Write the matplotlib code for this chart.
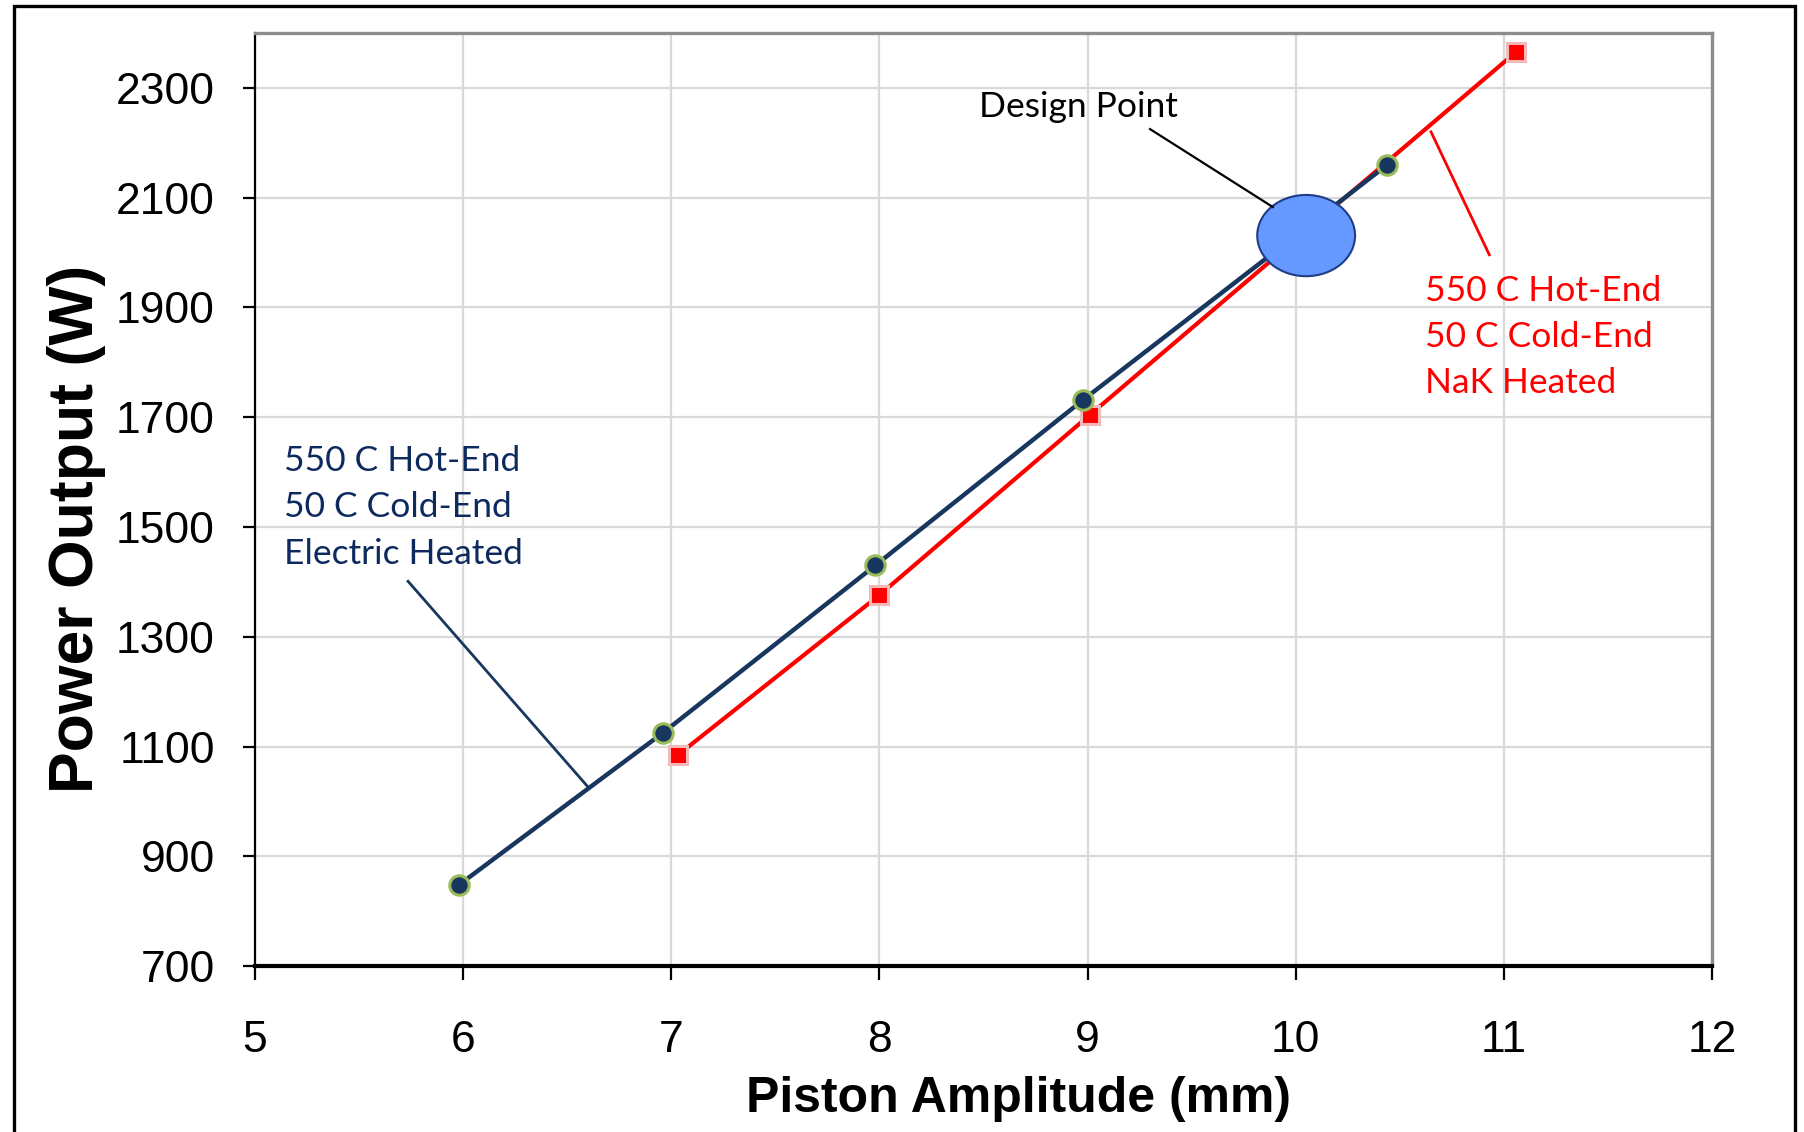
import matplotlib
matplotlib.use("Agg")
import matplotlib.pyplot as plt
from matplotlib.patches import Ellipse, Rectangle

# electric heated run (navy circles)
electric_amp = [5.98, 6.96, 7.98, 8.98, 10.44]
electric_power = [848, 1125, 1430, 1732, 2160]

# NaK heated run (red squares)
nak_amp = [7.03, 8.00, 9.01, 11.06]
nak_power = [1084, 1376, 1704, 2366]

x_ticks = [5, 6, 7, 8, 9, 10, 11, 12]
y_ticks = [700, 900, 1100, 1300, 1500, 1700, 1900, 2100, 2300]

design_point = (10.05, 2031)

navy = "#17375E"
navy_text = "#0D2A5E"
red = "#FF0000"

plt.rcParams["font.family"] = ["Liberation Sans", "DejaVu Sans"]

fig = plt.figure(figsize=(18.04, 11.32), dpi=100)
ax = fig.add_axes([0.1414, 0.1466, 0.8076, 0.8242])

ax.grid(True, color="#D9D9D9", linewidth=1.6, zorder=0)
ax.set_axisbelow(True)

ax.plot(electric_amp, electric_power, color=navy, linewidth=3.2, marker="o",
        markersize=14, markerfacecolor=navy, markeredgecolor="#9BBB59",
        markeredgewidth=2.2, zorder=4)
ax.plot(nak_amp, nak_power, color=red, linewidth=3.0, marker="s",
        markersize=13, markerfacecolor=red, markeredgecolor="#F4B8B8",
        markeredgewidth=2.2, zorder=3)

ax.add_patch(Ellipse(design_point, 0.47, 148, facecolor="#6699FF",
                     edgecolor="#1F3C88", linewidth=1.5, zorder=5))

ann_font = dict(family=["Lato", "DejaVu Sans"], fontsize=25.5)

ax.text(8.48, 2265, "Design Point", color="black", ha="left", va="center", **ann_font)
ax.plot([9.30, 9.89], [2225, 2083], color="black", linewidth=1.6, zorder=6)

ax.text(5.14, 1536, "550 C Hot-End\n50 C Cold-End\nElectric Heated", color=navy_text,
        ha="left", va="center", linespacing=1.55, **ann_font)
ax.plot([5.735, 6.605], [1401, 1024], color=navy, linewidth=2.0, zorder=6)

ax.text(10.62, 1846, "550 C Hot-End\n50 C Cold-End\nNaK Heated", color=red,
        ha="left", va="center", linespacing=1.55, **ann_font)
ax.plot([10.65, 10.93], [2220, 1996], color=red, linewidth=2.0, zorder=6)

ax.set_xlim(5, 12)
ax.set_ylim(700, 2400)
ax.set_xticks(x_ticks)
ax.set_yticks(y_ticks)
ax.tick_params(axis="both", labelsize=32, direction="out", width=1.6, colors="black")
ax.tick_params(axis="y", length=9, pad=20)
ax.tick_params(axis="x", length=10, pad=29)

for side in ["top", "right"]:
    ax.spines[side].set_color("#8C8C8C")
    ax.spines[side].set_linewidth(2.4)
ax.spines["left"].set_color("black")
ax.spines["left"].set_linewidth(1.6)
ax.spines["bottom"].set_color("black")
ax.spines["bottom"].set_linewidth(3.0)

ax.set_xlabel("Piston Amplitude (mm)", fontsize=36, fontweight="bold")
ax.set_ylabel("Power Output (W)", fontsize=45, fontweight="bold")
ax.xaxis.set_label_coords(0.524, -0.118)
ax.yaxis.set_label_coords(-0.102, 0.469)

# outer frame of the slide
fig.patches.append(Rectangle((0.0078, -0.05), 0.987, 1.0447, transform=fig.transFigure,
                             fill=False, edgecolor="black", linewidth=2.4))

fig.savefig("out.png", dpi=100)
